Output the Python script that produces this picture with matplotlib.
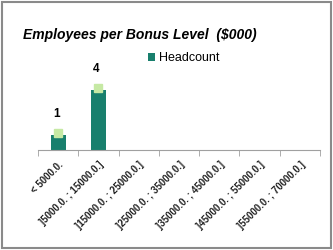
import matplotlib.pyplot as plt
import numpy as np
from matplotlib.patches import Rectangle

categories = [
    "< 5000.0.",
    "]5000.0. ; 15000.0.]",
    "]15000.0. ; 25000.0.]",
    "]25000.0. ; 35000.0.]",
    "]35000.0. ; 45000.0.]",
    "]45000.0. ; 55000.0.]",
    "]55000.0. ; 70000.0.]",
]
headcount = [1, 4, 0, 0, 0, 0, 0]

bar_color = "#187f6d"
marker_color = "#c6e9a4"

plt.rcParams["font.family"] = ["Liberation Sans", "DejaVu Sans"]

fig = plt.figure(figsize=(3.33, 2.5), dpi=100)
fig.patches.append(Rectangle((0.006, 0.008), 0.988, 0.984, transform=fig.transFigure,
                             fill=False, edgecolor="#8a8a8a", linewidth=1.5))

ax = fig.add_axes([0.114, 0.40, 0.847, 0.36])
x = np.arange(len(categories))
ax.bar(x, headcount, width=0.375, color=bar_color, label="Headcount")
nz = [i for i, v in enumerate(headcount) if v > 0]
ax.plot([x[i] for i in nz], [headcount[i] + 0.15 for i in nz], "s", color=marker_color,
        markersize=6, linestyle="none")
for i in nz:
    ax.text(x[i] - 0.05, headcount[i] + 1.0, str(headcount[i]), ha="center", va="bottom",
            fontsize=8.5, fontweight="bold")

ax.set_xlim(-0.5, len(categories) - 0.5)
ax.set_ylim(0, 6)
for s in ["top", "right", "left"]:
    ax.spines[s].set_visible(False)
ax.spines["bottom"].set_color("#a0a0a0")
ax.set_yticks([])
ax.set_xticks(x)
ax.set_xticklabels(categories, rotation=45, ha="right", rotation_mode="anchor",
                   fontsize=7, fontweight="bold", color="#222222")
ax.tick_params(axis="x", which="major", length=0, pad=7)
ax.set_xticks(np.arange(-0.5, len(categories)), minor=True)
ax.tick_params(axis="x", which="minor", length=4, color="#a0a0a0")

fig.text(0.07, 0.858, "Employees per Bonus Level  ($000)", fontsize=10, fontweight="bold",
         style="italic", va="center")
ax.legend(loc="center left", bbox_to_anchor=(0.369, 1.02), frameon=False, fontsize=9,
          handlelength=0.55, handleheight=0.55, handletextpad=0.3, borderpad=0)

fig.savefig("out.png", dpi=100)
